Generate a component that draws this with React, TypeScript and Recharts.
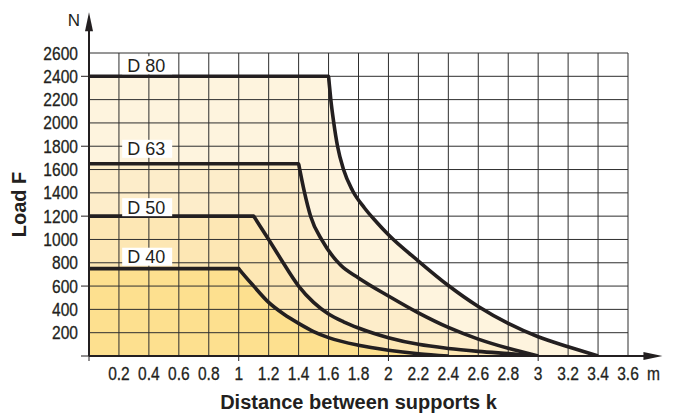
import React from 'react';
import { ComposedChart, Area, Line, XAxis, YAxis, CartesianGrid, ReferenceDot, ReferenceLine } from 'recharts';

const xTicks = [0, 0.2, 0.4, 0.6, 0.8, 1, 1.2, 1.4, 1.6, 1.8, 2, 2.2, 2.4, 2.6, 2.8, 3, 3.2, 3.4, 3.6];
const yTicks = [0, 200, 400, 600, 800, 1000, 1200, 1400, 1600, 1800, 2000, 2200, 2400, 2600];

// load curves (k in m, F in N)
const d80X = [0, 1.6, 1.602, 1.615, 1.635, 1.66, 1.7, 1.76, 1.84, 1.92, 2.0, 2.2, 2.4, 2.6, 2.8, 3.0, 3.2, 3.4];
const d80Y = [2400, 2400, 2373, 2200, 2000, 1800, 1600, 1420, 1270, 1150, 1040, 815, 605, 425, 280, 165, 80, 0];
const d63X = [0, 1.4, 1.403, 1.42, 1.44, 1.48, 1.56, 1.68, 1.8, 2.0, 2.2, 2.4, 2.6, 2.8, 3.0];
const d63Y = [1650, 1650, 1630, 1520, 1400, 1200, 985, 780, 670, 515, 370, 245, 145, 66, 0];
const d50X = [0, 1.1, 1.105, 1.2, 1.28, 1.4, 1.5, 1.6, 1.7, 1.8, 1.9, 2.0, 2.2, 2.4, 2.6, 2.8, 3.0];
const d50Y = [1200, 1200, 1190, 1000, 835, 600, 460, 360, 293, 240, 195, 157, 100, 65, 40, 20, 0];
const d40X = [0, 1.0, 1.005, 1.1, 1.2, 1.3, 1.4, 1.5, 1.6, 1.8, 2.0, 2.2, 2.4];
const d40Y = [750, 750, 742, 600, 460, 360, 280, 210, 158, 92, 50, 20, 0];

const seriesNames = ['D 80', 'D 63', 'D 50', 'D 40'];
const labelY = [2495, 1778, 1277, 852];
const labelX = 0.255;

const INK = '#231f20';
const GRID = '#2e2e2e';
const fills = ['#fef4de', '#fdedca', '#fde7b4', '#fde08f'];
const SANS = "'Liberation Sans', Arial, sans-serif";
const NARROW_SCALE = 0.82;

const toPoints = (xs: number[], ys: number[]) => xs.map((x, i) => ({ x, y: ys[i] }));
const series = [
  toPoints(d80X, d80Y),
  toPoints(d63X, d63Y),
  toPoints(d50X, d50Y),
  toPoints(d40X, d40Y),
];

// Helvetica-narrow look: regular sans squeezed horizontally
const NarrowText = ({ x, y, anchor, children }: any) => (
  <text
    transform={`translate(${x},${y}) scale(${NARROW_SCALE},1)`}
    textAnchor={anchor}
    fontSize={19}
    fontFamily={SANS}
    fill={INK}
    stroke={INK}
    strokeWidth={0.3}
  >
    {children}
  </text>
);

const XTick = (props: any) => {
  const { x, y, payload } = props;
  const v = payload.value;
  return (
    <g>
      {Number.isInteger(v) && <line x1={x} x2={x} y1={y} y2={y + 5} stroke={INK} strokeWidth={1} />}
      {v !== 0 && <NarrowText x={x} y={y + 24} anchor="middle">{v}</NarrowText>}
    </g>
  );
};

const YTick = (props: any) => {
  const { x, y, payload } = props;
  const v = payload.value;
  return (
    <g>
      {v % 600 === 0 && <line x1={x - 8} x2={x} y1={y} y2={y} stroke={INK} strokeWidth={1} />}
      {v !== 0 && <NarrowText x={x - 11} y={y + 6.5} anchor="end">{v}</NarrowText>}
    </g>
  );
};

const YTitle = (props: any) => {
  const { x, y, height } = props.viewBox;
  const cx = x - 10;
  const cy = y + height / 2;
  return (
    <text x={cx} y={cy} transform={`rotate(-90, ${cx}, ${cy})`} textAnchor="middle" dominantBaseline="central"
      fontSize={20} fontWeight="bold" fontFamily={SANS} fill={INK}>
      Load F
    </text>
  );
};

const XTitle = (props: any) => {
  const { x, y, width, height } = props.viewBox;
  return (
    <text x={x + width / 2} y={y + height + 23} textAnchor="middle"
      fontSize={20} fontWeight="bold" fontFamily={SANS} fill={INK}>
      Distance between supports k
    </text>
  );
};

const App = () => {
  return (
    <div style={{ position: 'absolute', left: 0, top: 0, width: 673, height: 418, background: '#fff' }}>
      <ComposedChart width={673} height={418} margin={{ top: 53, right: 45, bottom: 32, left: 29 }}>
        <XAxis
          dataKey="x"
          type="number"
          domain={[0, 3.6]}
          ticks={xTicks}
          interval={0}
          tickSize={0}
          tickMargin={0}
          tickLine={false}
          tick={<XTick />}
          height={30}
          axisLine={{ stroke: INK, strokeWidth: 2 }}
          allowDataOverflow
          label={<XTitle />}
        />
        <YAxis
          dataKey="y"
          type="number"
          domain={[0, 2600]}
          ticks={yTicks}
          interval={0}
          tickSize={0}
          tickMargin={0}
          tickLine={false}
          tick={<YTick />}
          width={60}
          axisLine={{ stroke: INK, strokeWidth: 2 }}
          allowDataOverflow
          label={<YTitle />}
        />
        {series.map((data, i) => (
          <Area
            key={`a${i}`}
            data={data}
            dataKey="y"
            type="monotoneX"
            fill={fills[i]}
            fillOpacity={1}
            stroke="none"
            isAnimationActive={false}
          />
        ))}
        <CartesianGrid stroke={GRID} strokeWidth={1} horizontalValues={yTicks} verticalValues={xTicks} zIndex={150} />
        {series.map((data, i) => (
          <Line
            key={`l${i}`}
            data={data}
            dataKey="y"
            type="monotoneX"
            stroke={INK}
            strokeWidth={3.6}
            dot={false}
            activeDot={false}
            isAnimationActive={false}
          />
        ))}
        <ReferenceLine segment={[{ x: 3.6, y: 0 }, { x: 3.75, y: 0 }]} ifOverflow="visible" stroke={INK} strokeWidth={2} />
        <ReferenceLine segment={[{ x: 0, y: 2600 }, { x: 0, y: 2850 }]} ifOverflow="visible" stroke={INK} strokeWidth={2} />
        <ReferenceDot
          x={3.83}
          y={0}
          ifOverflow="visible"
          shape={(p: any) => (
            <g>
              <path d={`M${p.cx},${p.cy} L${p.cx - 19},${p.cy - 4} L${p.cx - 19},${p.cy + 4} Z`} fill={INK} />
              <NarrowText x={p.cx - 9} y={p.cy + 24} anchor="middle">m</NarrowText>
            </g>
          )}
        />
        <ReferenceDot
          x={0}
          y={2950}
          ifOverflow="visible"
          shape={(p: any) => (
            <g>
              <path d={`M${p.cx},${p.cy} L${p.cx - 4},${p.cy + 19} L${p.cx + 4},${p.cy + 19} Z`} fill={INK} />
              <text x={p.cx - 9} y={p.cy + 14} textAnchor="end" fontSize={17} fontFamily={SANS} fill={INK}>N</text>
            </g>
          )}
        />
        {seriesNames.map((name, i) => (
          <ReferenceDot
            key={name}
            x={labelX}
            y={labelY[i]}
            ifOverflow="visible"
            shape={(p: any) => (
              <g>
                <rect x={p.cx - 5} y={p.cy - 9} width={50} height={18} fill="#fff" />
                <text x={p.cx} y={p.cy + 6.5} fontSize={18} fontFamily={SANS} fill={INK}>{name}</text>
              </g>
            )}
          />
        ))}
      </ComposedChart>
    </div>
  );
};

export default App;
